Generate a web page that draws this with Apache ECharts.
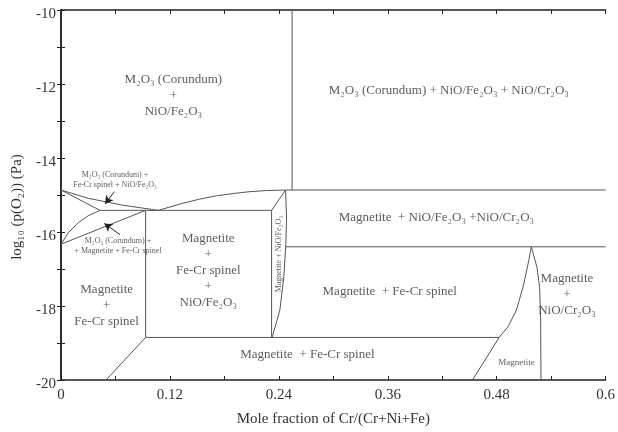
<!DOCTYPE html>
<html><head><meta charset="utf-8">
<script src="https://cdn.jsdelivr.net/npm/echarts@6/dist/echarts.min.js"></script>
<style>html,body{margin:0;padding:0;background:#fff}#c{width:618px;height:432px}</style>
</head><body><div id="c"></div>
<script>
// Axis settings
const xTicks = [0, 0.12, 0.24, 0.36, 0.48, 0.6];
const yTicks = [-20, -18, -16, -14, -12, -10];

// Phase boundary lines [Cr fraction, log10 pO2]
const vTop = [[0.2546, -10], [0.2546, -14.865]];
const hUpper = [[0.2474, -14.865], [0.6, -14.865]];
const hMid = [[0.2477, -16.40], [0.6, -16.40]];
const hLow = [[0.0932, -18.85], [0.4826, -18.85]];
const boxTop = [[0.0429, -15.415], [0.2320, -15.415]];
const boxLeft = [[0.0932, -15.415], [0.0932, -18.85]];
const boxRight = [[0.2320, -15.415], [0.2320, -18.85]];
const bandSlant = [[0.2320, -15.415], [0.2474, -14.865]];
const bandRight = [[0.2474, -14.865], [0.2485, -15.62], [0.2477, -16.33], [0.2455, -17.22], [0.2411, -18.11], [0.2326, -18.85]];
const bottomSlant = [[0.0932, -18.85], [0.0496, -20]];
const upperLeftCurve = [[0, -14.865], [0.0301, -15.09], [0.0668, -15.27], [0.0888, -15.35], [0.1071, -15.415]];
const bigCurve = [[0.1071, -15.415], [0.1347, -15.22], [0.1530, -15.11], [0.1714, -15.02], [0.1897, -14.96], [0.2081, -14.91], [0.2264, -14.88], [0.2474, -14.865]];
const upperStraight = [[0, -14.865], [0.0429, -15.415]];
const lowerLeftCurve = [[0, -16.33], [0.008, -16.02], [0.019, -15.75], [0.030, -15.56], [0.0429, -15.415]];
const lowerStraight = [[0, -16.33], [0.0932, -15.415]];
const magLeft = [[0.5182, -16.40], [0.5145, -16.87], [0.5090, -17.49], [0.5017, -18.11], [0.4925, -18.56], [0.4826, -18.85], [0.4687, -19.40], [0.4533, -20]];
const magRight = [[0.5182, -16.40], [0.5244, -16.96], [0.5273, -17.49], [0.5284, -18.38], [0.5288, -20]];

// Arrows [tail, head]
const arrow1 = [[0.0587, -14.91], [0.0485, -15.24]];
const arrow2 = [[0.065, -16.07], [0.0477, -15.77]];

// Region labels
const labelTexts = [
  'M₂O₃ (Corundum)\n+\nNiO/Fe₂O₃',
  'M₂O₃ (Corundum) + NiO/Fe₂O₃ + NiO/Cr₂O₃',
  'Magnetite  + NiO/Fe₂O₃ +NiO/Cr₂O₃',
  'Magnetite  + Fe-Cr spinel',
  'Magnetite\n+\nNiO/Cr₂O₃',
  'Magnetite',
  'Magnetite  + Fe-Cr spinel',
  'Magnetite\n+\nFe-Cr spinel\n+\nNiO/Fe₂O₃',
  'Magnetite\n+\nFe-Cr spinel',
  'Magnetite + NiO/Fe₂O₃',
  'M₂O₃ (Corundum) +\nFe-Cr spinel + NiO/Fe₂O₃',
  'M₂O₃ (Corundum) +\n+ Magnetite + Fe-Cr spinel'
];
const labelX = [0.1238, 0.4272, 0.4136, 0.3622, 0.5574, 0.5017, 0.2714, 0.1622, 0.0503, 0.2403, 0.0595, 0.0628];
const labelY = [-12.31, -12.18, -15.60, -17.60, -17.69, -19.54, -19.31, -17.04, -17.98, -16.60, -14.58, -16.38];
const labelSize = [13, 13, 13, 13, 13, 9, 13, 13, 13, 8, 8, 8];
const labelRotate = [0, 0, 0, 0, 0, 0, 0, 0, 0, 90, 0, 0];

const FONT = '"Liberation Serif", "DejaVu Serif", serif';
const lineColor = '#555';
const textColor = '#333';

const boundaries = [vTop, hUpper, hMid, hLow, boxTop, boxLeft, boxRight, bandSlant, bandRight,
  bottomSlant, upperLeftCurve, bigCurve, upperStraight, lowerLeftCurve, lowerStraight, magLeft, magRight];

const series = boundaries.map(d => ({
  type: 'line', data: d, showSymbol: false, symbol: 'none', silent: true,
  lineStyle: { color: lineColor, width: 1 }, animation: false, z: 3
}));

series.push({
  type: 'line', data: [], silent: true, animation: false,
  markLine: {
    silent: true, animation: false, symbol: ['none', 'arrow'], symbolSize: [7, 8],
    label: { show: false },
    lineStyle: { color: '#222', width: 1, type: 'solid' },
    data: [arrow1, arrow2].map(a => [{ coord: a[0] }, { coord: a[1] }])
  }
});

series.push({
  type: 'scatter', symbolSize: 0, silent: true, animation: false, z: 5,
  data: labelTexts.map((t, i) => ({
    name: t, value: [labelX[i], labelY[i]],
    label: {
      show: true, position: 'inside', formatter: '{b}', fontFamily: FONT,
      fontSize: labelSize[i], lineHeight: labelSize[i] >= 13 ? 16 : labelSize[i] + 2,
      color: textColor, rotate: labelRotate[i], align: 'center', verticalAlign: 'middle'
    }
  }))
});

const axisLineStyle = { color: '#222', width: 1.5 };
const chart = echarts.init(document.getElementById('c'), null, { renderer: 'canvas' });
chart.setOption({
  animation: false,
  backgroundColor: '#fff',
  grid: { left: 61, right: 12, top: 10, bottom: 48, containLabel: false },
  xAxis: [{
    type: 'value', min: xTicks[0], max: xTicks[xTicks.length - 1], interval: xTicks[1] - xTicks[0],
    position: 'bottom',
    axisLine: { show: true, lineStyle: axisLineStyle },
    axisTick: { show: true, inside: true, length: 4, lineStyle: { color: '#222' } },
    minorTick: { show: true, splitNumber: 2, length: 4, lineStyle: { color: '#222' } },
    splitLine: { show: false },
    axisLabel: { fontFamily: FONT, fontSize: 15, color: textColor, margin: 8,
      formatter: v => { const m = xTicks.find(t => Math.abs(t - v) < 1e-6); return m === undefined ? '' : String(m); } },
    name: 'Mole fraction of Cr/(Cr+Ni+Fe)', nameLocation: 'middle', nameGap: 32,
    nameTextStyle: { fontFamily: FONT, fontSize: 15, color: textColor }
  }, {
    type: 'value', min: xTicks[0], max: xTicks[xTicks.length - 1], interval: xTicks[1] - xTicks[0],
    position: 'top',
    axisLine: { show: true, lineStyle: axisLineStyle },
    axisTick: { show: true, inside: true, length: 4, lineStyle: { color: '#222' } },
    minorTick: { show: true, splitNumber: 2, length: 4, lineStyle: { color: '#222' } },
    splitLine: { show: false }, axisLabel: { show: false }
  }],
  yAxis: [{
    type: 'value', min: yTicks[0], max: yTicks[yTicks.length - 1], interval: yTicks[1] - yTicks[0],
    position: 'left',
    axisLine: { show: true, lineStyle: axisLineStyle },
    axisTick: { show: true, inside: true, length: 4, lineStyle: { color: '#222' } },
    minorTick: { show: true, splitNumber: 2, length: 4, lineStyle: { color: '#222' } },
    splitLine: { show: false },
    axisLabel: { fontFamily: FONT, fontSize: 15, color: textColor, margin: 5, verticalAlign: 'top', padding: [-3, 0, 0, 0] },
    name: 'log₁₀ (p(O₂)) (Pa)', nameLocation: 'middle', nameGap: 36,
    nameTextStyle: { fontFamily: FONT, fontSize: 15, color: textColor, padding: [0, 24, 0, 0] }
  }, {
    type: 'value', min: yTicks[0], max: yTicks[yTicks.length - 1], interval: yTicks[1] - yTicks[0],
    position: 'right',
    axisLine: { show: true, lineStyle: axisLineStyle },
    axisTick: { show: true, inside: true, length: 4, lineStyle: { color: '#222' } },
    minorTick: { show: true, splitNumber: 2, length: 4, lineStyle: { color: '#222' } },
    splitLine: { show: false }, axisLabel: { show: false }
  }],
  series: series
});
</script></body></html>
